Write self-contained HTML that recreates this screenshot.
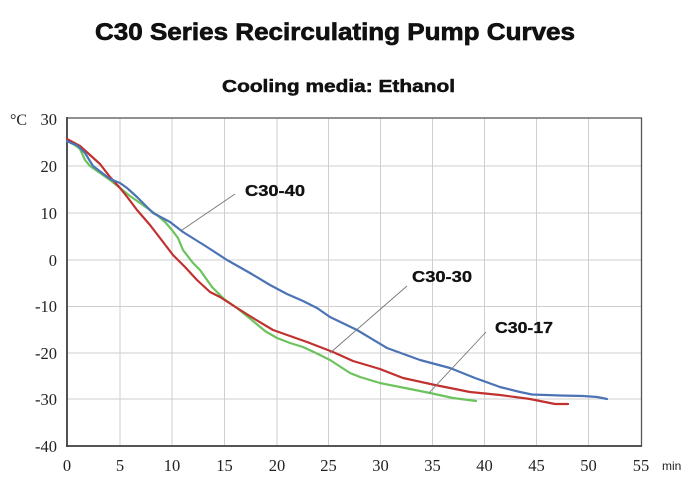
<!DOCTYPE html>
<html>
<head>
<meta charset="utf-8">
<style>
  html,body{margin:0;padding:0;background:#fff;}
  svg{display:block;}
</style>
</head>
<body>
<svg width="700" height="493" viewBox="0 0 700 493" xmlns="http://www.w3.org/2000/svg">
  <rect width="700" height="493" fill="#fff"/>
  <!-- Titles -->
  <text x="95" y="40" font-family="'Liberation Sans', sans-serif" font-weight="bold" font-size="24" fill="#111" stroke="#111" stroke-width="0.7" textLength="480" lengthAdjust="spacingAndGlyphs">C30 Series Recirculating Pump Curves</text>
  <text x="222" y="92" font-family="'Liberation Sans', sans-serif" font-weight="bold" font-size="17.5" fill="#111" stroke="#111" stroke-width="0.5" textLength="233" lengthAdjust="spacingAndGlyphs">Cooling media: Ethanol</text>

  <!-- Grid -->
  <g stroke="#cfcfcf" stroke-width="1">
    <line x1="120" y1="118" x2="120" y2="446"/>
    <line x1="172" y1="118" x2="172" y2="446"/>
    <line x1="224.5" y1="118" x2="224.5" y2="446"/>
    <line x1="277" y1="118" x2="277" y2="446"/>
    <line x1="328.5" y1="118" x2="328.5" y2="446"/>
    <line x1="380.5" y1="118" x2="380.5" y2="446"/>
    <line x1="432.5" y1="118" x2="432.5" y2="446"/>
    <line x1="484.5" y1="118" x2="484.5" y2="446"/>
    <line x1="536.5" y1="118" x2="536.5" y2="446"/>
    <line x1="588.5" y1="118" x2="588.5" y2="446"/>
    <line x1="67" y1="166" x2="641" y2="166"/>
    <line x1="67" y1="213" x2="641" y2="213"/>
    <line x1="67" y1="260" x2="641" y2="260"/>
    <line x1="67" y1="306.5" x2="641" y2="306.5"/>
    <line x1="67" y1="353" x2="641" y2="353"/>
    <line x1="67" y1="399" x2="641" y2="399"/>
  </g>
  <!-- Frame -->
  <rect x="67" y="118" width="574.5" height="328" fill="none" stroke="#555" stroke-width="1.3"/>
  <line x1="67" y1="117" x2="67" y2="447" stroke="#444" stroke-width="1.8"/>
  <line x1="66" y1="446" x2="642" y2="446" stroke="#444" stroke-width="1.8"/>

  <!-- Y labels -->
  <g font-family="'Liberation Serif', serif" font-size="16.5" fill="#222" text-anchor="end">
    <text x="57" y="125">30</text>
    <text x="57" y="172">20</text>
    <text x="57" y="219">10</text>
    <text x="57" y="266">0</text>
    <text x="57" y="312">-10</text>
    <text x="57" y="359">-20</text>
    <text x="57" y="405">-30</text>
    <text x="57" y="452">-40</text>
  </g>
  <text x="10" y="125" font-family="'Liberation Serif', serif" font-size="16" fill="#222">°C</text>

  <!-- X labels -->
  <g font-family="'Liberation Serif', serif" font-size="16.5" fill="#222" text-anchor="middle">
    <text x="67" y="471">0</text>
    <text x="120" y="471">5</text>
    <text x="172" y="471">10</text>
    <text x="224.5" y="471">15</text>
    <text x="277" y="471">20</text>
    <text x="328.5" y="471">25</text>
    <text x="380.5" y="471">30</text>
    <text x="432.5" y="471">35</text>
    <text x="484.5" y="471">40</text>
    <text x="536.5" y="471">45</text>
    <text x="588.5" y="471">50</text>
    <text x="641" y="471">55</text>
  </g>
  <text x="662" y="470" font-family="'Liberation Sans', sans-serif" font-size="12" fill="#222">min</text>

  <!-- Curves -->
  <g fill="none" stroke-width="2.2" stroke-linejoin="round" stroke-linecap="round">
    <polyline stroke="#6cc35c" points="67,141 75,145 80,149 85,160 90,166 100,173 110,180 120,188 130,196 140,203 157,215 165,222 172,230 178,238 183,250 193,263 200,270 212,287 224,299 237,308 253,321 265,331 277,338 290,343 303,347 318,354 330,360 350,373 360,377 380,383 405,388 430,393 453,398 476,401"/>
    <polyline stroke="#c0312f" points="67,139 80,146 90,155 100,164 110,177 120,188 128,198 137,210 150,225 160,238 173,255 185,267 197,280 210,292 220,297 237,308 253,318 273,330 290,336 307,342 333,352 353,361 380,369 403,378 435,385 470,392 500,395 530,399 545,402 555,404 568,404"/>
    <polyline stroke="#4b73b5" points="67,141 78,146 85,153 93,166 110,179 120,183 127,188 137,197 147,207 153,213 170,222 183,232 207,247 227,260 250,273 270,285 287,294 303,301 317,308 330,317 357,330 387,348 420,360 450,368 475,378 500,387 520,392 532,394.5 560,395.5 583,396 597,397 607,399"/>
  </g>

  <!-- Leader lines -->
  <g stroke="#777" stroke-width="0.9">
    <line x1="235" y1="194" x2="182" y2="230"/>
    <line x1="407" y1="286" x2="330" y2="353"/>
    <line x1="486" y1="332" x2="429" y2="393"/>
  </g>
  <!-- Series labels -->
  <g font-family="'Liberation Sans', sans-serif" font-weight="bold" font-size="15.5" fill="#111" stroke="#111" stroke-width="0.3">
    <text x="245" y="196" textLength="60" lengthAdjust="spacingAndGlyphs">C30-40</text>
    <text x="412" y="282" textLength="60" lengthAdjust="spacingAndGlyphs">C30-30</text>
    <text x="495" y="333" textLength="58" lengthAdjust="spacingAndGlyphs">C30-17</text>
  </g>
</svg>
</body>
</html>
